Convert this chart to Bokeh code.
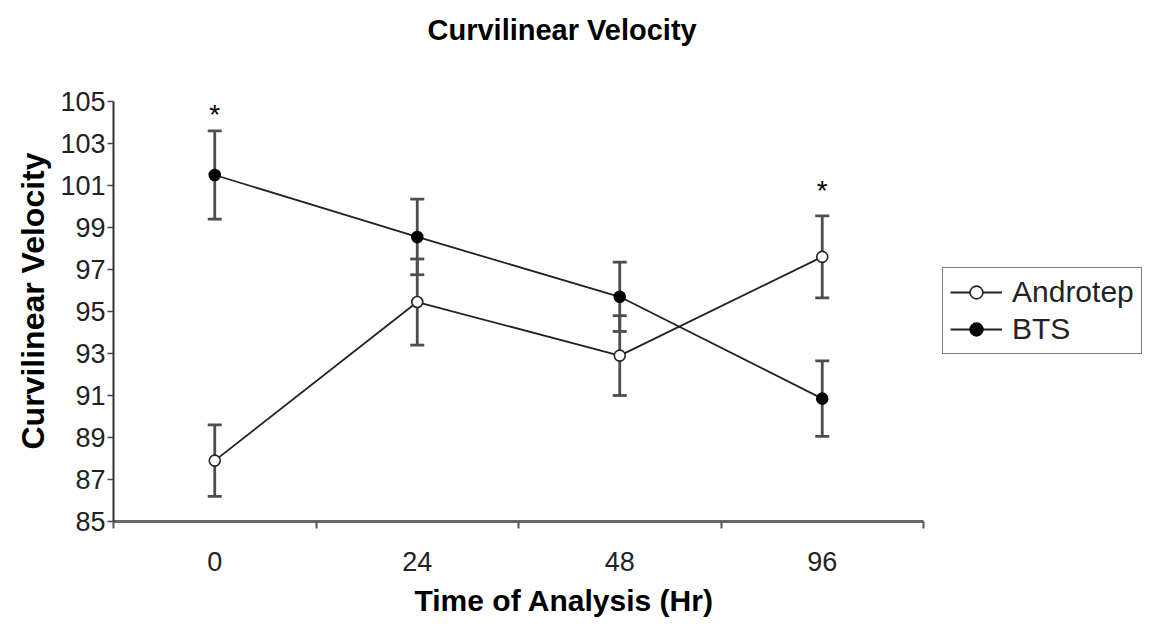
from bokeh.plotting import figure
from bokeh.models import (ColumnDataSource, Whisker, TeeHead, FixedTicker, Legend,
                          LegendItem, Title, Range1d)
from bokeh.embed import file_html
from bokeh.resources import INLINE
from bokeh.core.properties import value

# ---- data ----
categories = ["0", "24", "48", "96"]
androtep_mean = [87.9, 95.45, 92.9, 97.6]
androtep_se = [1.7, 2.05, 1.9, 1.95]
bts_mean = [101.5, 98.55, 95.7, 90.85]
bts_se = [2.1, 1.8, 1.65, 1.8]
significant = ["0", "96"]
y_ticks = [85, 87, 89, 91, 93, 95, 97, 99, 101, 103, 105]

# gap (in axis units) between the top of the error bar and each asterisk
asterisk_gap = [0.8, 1.2]

FONT = "Liberation Sans"
xpos = [i + 0.5 for i in range(len(categories))]

src_a = ColumnDataSource(dict(x=xpos, y=androtep_mean,
                              lo=[m - s for m, s in zip(androtep_mean, androtep_se)],
                              hi=[m + s for m, s in zip(androtep_mean, androtep_se)]))
src_b = ColumnDataSource(dict(x=xpos, y=bts_mean,
                              lo=[m - s for m, s in zip(bts_mean, bts_se)],
                              hi=[m + s for m, s in zip(bts_mean, bts_se)]))

p = figure(frame_width=810, frame_height=441,
           min_border_left=113, min_border_top=0, min_border_right=220, min_border_bottom=108,
           x_range=Range1d(0, len(categories)), y_range=Range1d(85, 106),
           output_backend="svg", toolbar_location=None)
p.title = None
p.outline_line_color = None
p.xgrid.visible = False
p.ygrid.visible = False
p.background_fill_color = "white"
p.border_fill_color = "white"

# spacer between frame and title, then the title above it
p.add_layout(Title(text=" ", standoff=11, text_font=FONT, text_font_size="10px"), "above")
p.add_layout(Title(text="Curvilinear Velocity", align="left", offset=314, standoff=22,
                   text_font=FONT, text_font_style="bold", text_font_size="29px",
                   text_color="black"), "above")

# axes
xa = p.xaxis[0]
xa.ticker = FixedTicker(ticks=xpos, minor_ticks=list(range(len(categories) + 1)))
xa.major_label_overrides = {x: c for x, c in zip(xpos, categories)}
xa.major_tick_line_color = None
xa.major_tick_out = 0
xa.major_tick_in = 0
xa.minor_tick_line_color = "#555555"
xa.minor_tick_line_width = 2
xa.minor_tick_out = 7
xa.minor_tick_in = 0
xa.axis_line_color = "#666666"
xa.axis_line_width = 3
xa.major_label_text_font = FONT
xa.major_label_text_font_size = "27px"
xa.major_label_text_color = "#222222"
xa.major_label_standoff = 23

ya = p.yaxis[0]
ya.ticker = FixedTicker(ticks=y_ticks)
ya.bounds = (85, 105)
ya.minor_tick_line_color = None
ya.major_tick_line_color = "#444444"
ya.major_tick_line_width = 1.5
ya.major_tick_out = 6
ya.major_tick_in = 0
ya.axis_line_color = "#333333"
ya.axis_line_width = 2
ya.major_label_text_font = FONT
ya.major_label_text_font_size = "27px"
ya.major_label_text_color = "#222222"
ya.major_label_standoff = 2
ya.axis_label = "Curvilinear Velocity"
ya.axis_label_text_font = FONT
ya.axis_label_text_font_style = "bold"
ya.axis_label_text_font_size = "32px"
ya.axis_label_text_color = "black"
ya.axis_label_standoff = 6

# x-axis title as a below title (positioned like the reference)
p.add_layout(Title(text="Time of Analysis (Hr)", align="left", offset=301, standoff=16,
                   text_font=FONT, text_font_style="bold", text_font_size="30px",
                   text_color="black"), "below")

# error bars
for src in (src_a, src_b):
    w = Whisker(source=src, base="x", lower="lo", upper="hi",
                line_color="#4d4d4d", line_width=2.8,
                upper_head=TeeHead(size=14, line_color="#4d4d4d", line_width=2.8),
                lower_head=TeeHead(size=14, line_color="#4d4d4d", line_width=2.8))
    p.add_layout(w)

# series
la = p.line("x", "y", source=src_a, line_color="#222222", line_width=1.8)
ca = p.scatter("x", "y", source=src_a, size=11, marker="circle",
               fill_color="white", line_color="#222222", line_width=1.6)
lb = p.line("x", "y", source=src_b, line_color="#222222", line_width=1.8)
cb = p.scatter("x", "y", source=src_b, size=11, marker="circle",
               fill_color="black", line_color="black", line_width=1.6)

# significance asterisks
sig_idx = [categories.index(c) for c in significant]
src_s = ColumnDataSource(dict(
    x=[xpos[i] for i in sig_idx],
    y=[max(androtep_mean[i] + androtep_se[i], bts_mean[i] + bts_se[i]) + g
       for i, g in zip(sig_idx, asterisk_gap)],
    t=["*"] * len(sig_idx)))
p.text("x", "y", text="t", source=src_s, text_align="center", text_baseline="middle",
       text_font=value(FONT), text_font_size="28px", text_color="black")

legend = Legend(items=[LegendItem(label="Androtep", renderers=[la, ca]),
                       LegendItem(label="BTS", renderers=[lb, cb])],
                location=(19, 167))
legend.label_text_font = FONT
legend.label_text_font_size = "30px"
legend.label_text_color = "#222222"
legend.border_line_color = "black"
legend.border_line_width = 1.5
legend.glyph_width = 52
legend.glyph_height = 32
legend.label_standoff = 10
legend.label_height = 32
legend.padding = 7
legend.spacing = 3
legend.margin = 0
legend.background_fill_color = "white"
p.add_layout(legend, "right")

open("out.html", "w").write(file_html(p, INLINE))
